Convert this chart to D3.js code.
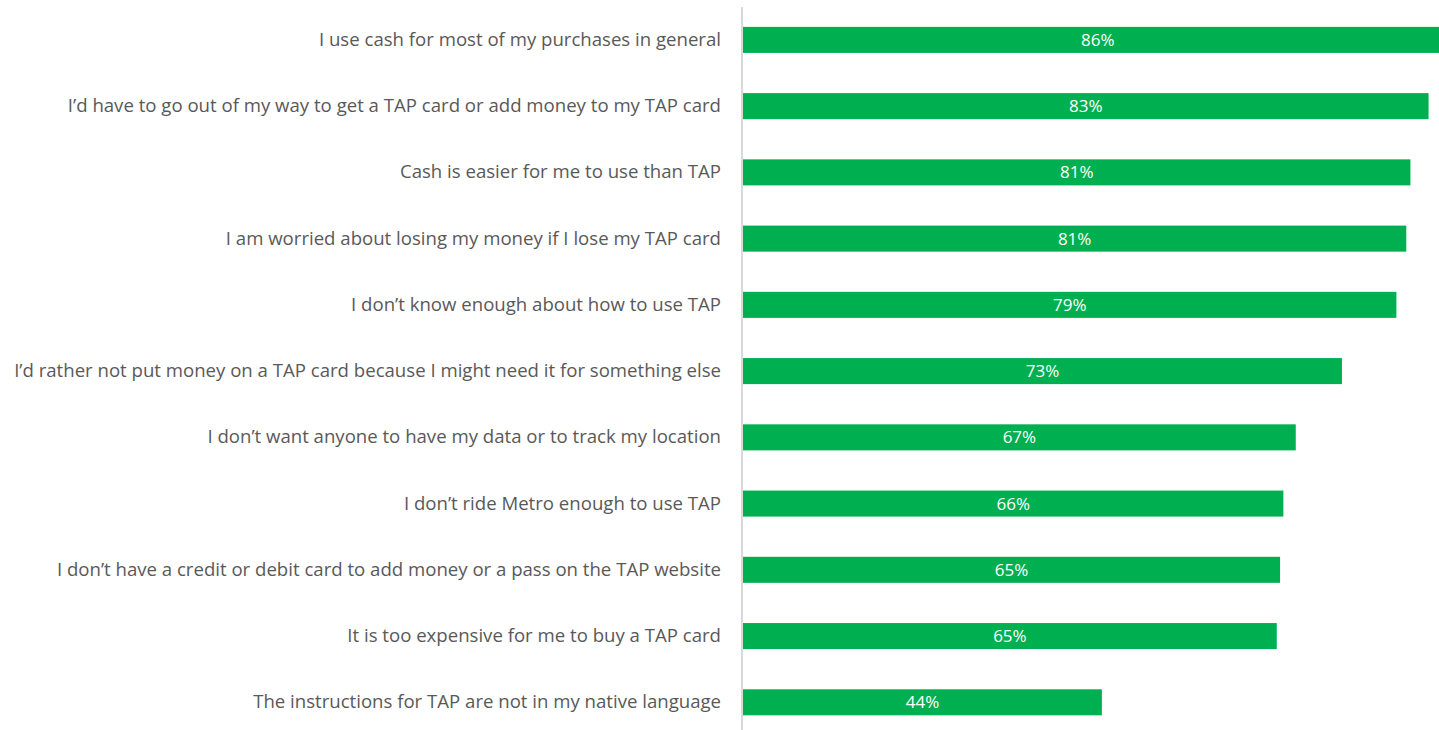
<!doctype html>
<html lang="en">
<head>
<meta charset="utf-8">
<script src="https://d3js.org/d3.v7.min.js"></script>
<style>
  body { margin: 0; background: #fff; }
  svg { display: block; }
</style>
</head>
<body>
<div id="chart"></div>
<script>
// categories, top to bottom
var categories = [
  "I use cash for most of my purchases in general",
  "I\u2019d have to go out of my way to get a TAP card or add money to my TAP card",
  "Cash is easier for me to use than TAP",
  "I am worried about losing my money if I lose my TAP card",
  "I don\u2019t know enough about how to use TAP",
  "I\u2019d rather not put money on a TAP card because I might need it for something else",
  "I don\u2019t want anyone to have my data or to track my location",
  "I don\u2019t ride Metro enough to use TAP",
  "I don\u2019t have a credit or debit card to add money or a pass on the TAP website",
  "It is too expensive for me to buy a TAP card",
  "The instructions for TAP are not in my native language"
];
// bar lengths (percent)
var values = [86, 83.1, 80.9, 80.4, 79.2, 72.6, 67.0, 65.5, 65.1, 64.7, 43.5];
// printed labels
var valueLabels = ["86%", "83%", "81%", "81%", "79%", "73%", "67%", "66%", "65%", "65%", "44%"];

var data = categories.map(function (c, i) {
  return { cat: c, value: values[i], label: valueLabels[i] };
});

var width = 1439, height = 730;
var x0 = 743;
var font = "'Open Sans', 'Noto Sans', sans-serif";

var svg = d3.select("#chart").append("svg")
  .attr("width", width)
  .attr("height", height);

var x = d3.scaleLinear()
  .domain([0, 100])
  .range([x0, x0 + 825]);

var y = d3.scaleBand()
  .domain(categories)
  .range([7, 7 + 66.2 * categories.length])
  .paddingInner(0.607)
  .paddingOuter(0.3);

// bars
svg.selectAll("rect.bar")
  .data(data)
  .enter().append("rect")
  .attr("class", "bar")
  .attr("x", x(0))
  .attr("y", function (d) { return y(d.cat); })
  .attr("width", function (d) { return x(d.value) - x(0); })
  .attr("height", y.bandwidth())
  .attr("fill", "#00b050");

// value labels centred in each bar
svg.selectAll("text.val")
  .data(data)
  .enter().append("text")
  .attr("class", "val")
  .attr("x", function (d) { return (x(0) + x(d.value)) / 2; })
  .attr("y", function (d) { return y(d.cat) + y.bandwidth() / 2; })
  .attr("dy", "0.36em")
  .attr("text-anchor", "middle")
  .attr("fill", "#ffffff")
  .style("font-family", font)
  .style("font-size", "17px")
  .text(function (d) { return d.label; });

// category axis
var axis = svg.append("g")
  .attr("transform", "translate(" + (x0 - 1) + ",0)")
  .call(d3.axisLeft(y).tickSize(0).tickPadding(21));
axis.select(".domain")
  .attr("d", "M0,7V" + height)
  .attr("stroke", "#d9d9d9")
  .attr("stroke-width", 2);
axis.selectAll("text")
  .attr("fill", "#595959")
  .style("font-family", font)
  .style("font-size", "18.6px");
</script>
</body>
</html>
